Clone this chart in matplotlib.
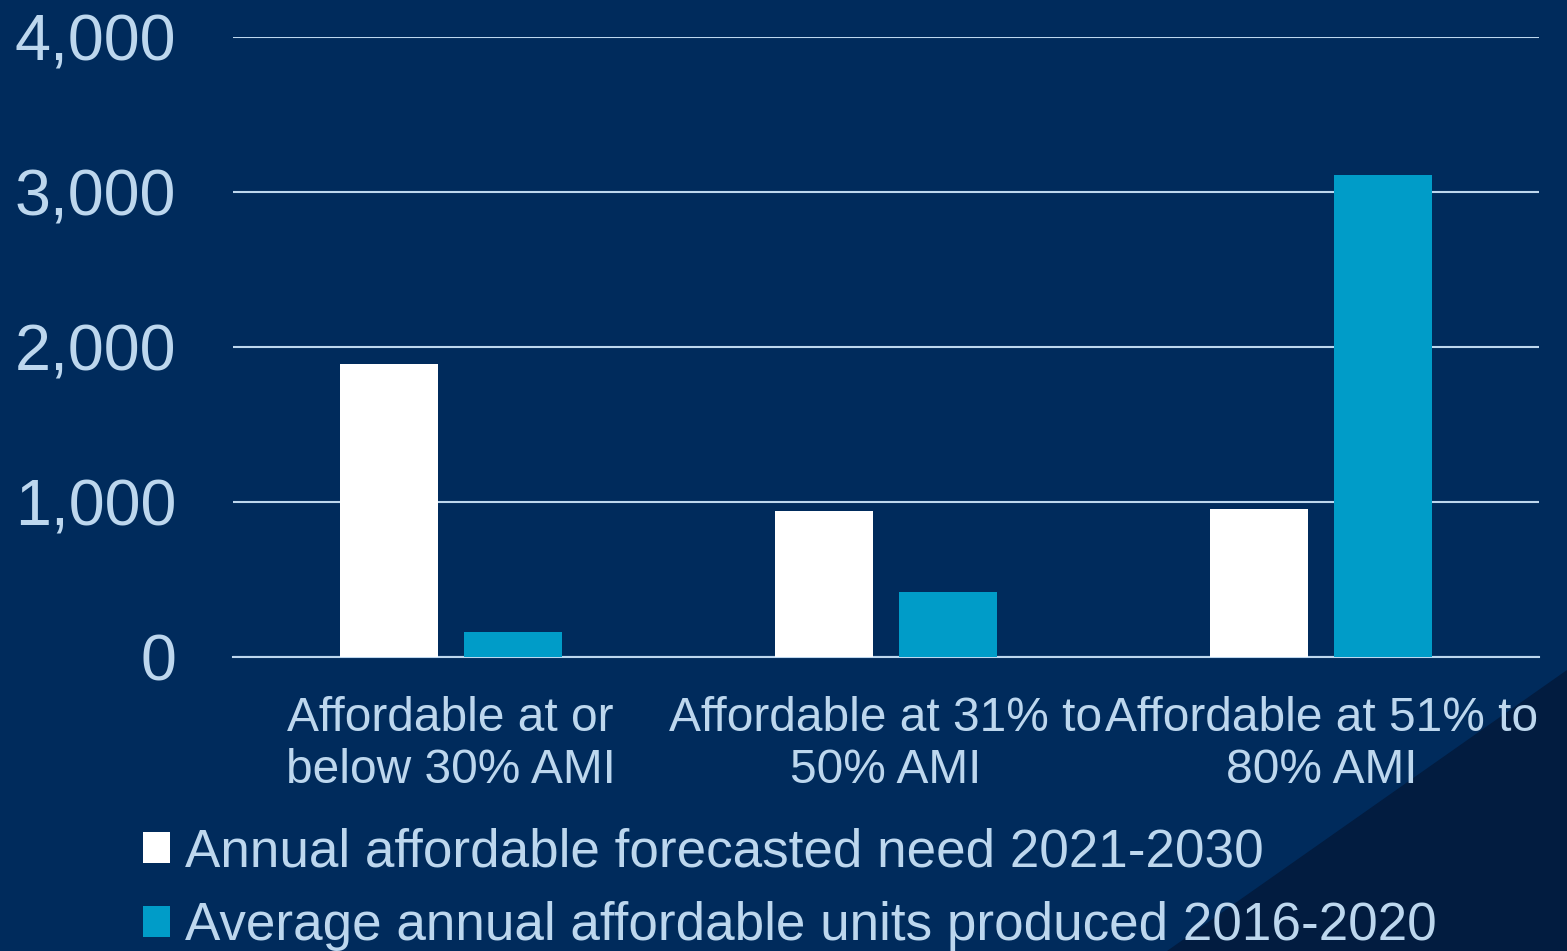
import numpy as np
import matplotlib
matplotlib.use('Agg')
import matplotlib.pyplot as plt
from matplotlib.patches import Polygon
from matplotlib.ticker import FuncFormatter

plt.rcParams['font.family'] = ['Liberation Sans', 'DejaVu Sans']

BG = '#002B5C'
TXT = '#BDD7EE'
WHITE = '#FFFFFF'
TEAL = '#009CC8'

categories = ['Affordable at or\nbelow 30% AMI',
              'Affordable at 31% to\n50% AMI',
              'Affordable at 51% to\n80% AMI']
need = [1890, 940, 955]
produced = [160, 420, 3110]
series_names = ['Annual affordable forecasted need 2021-2030',
                'Average annual affordable units produced 2016-2020']
y_ticks = [0, 1000, 2000, 3000, 4000]

fig = plt.figure(figsize=(15.67, 9.51), dpi=100, facecolor=BG)

# darker diagonal corner in the background
corner = Polygon([(1.0, 0.295), (1.0, 0.0), (0.745, 0.0)], closed=True,
                 transform=fig.transFigure, facecolor='#021C40',
                 edgecolor='none', zorder=-10)
fig.patches.append(corner)

ax = fig.add_axes([0.1487, 0.3091, 0.8334, 0.652])
ax.set_facecolor('none')

x = np.arange(len(categories))
w = 0.225
off = 0.1425
b1 = ax.bar(x - off, need, w, color=WHITE, zorder=3, label=series_names[0])
b2 = ax.bar(x + off, produced, w, color=TEAL, zorder=3, label=series_names[1])

ax.set_xlim(-0.5, len(categories) - 0.5)
ax.set_ylim(0, 4000)
ax.set_yticks(y_ticks)
ax.yaxis.set_major_formatter(FuncFormatter(lambda v, p: f'{int(v):,}'))
ax.grid(axis='y', color=TXT, linewidth=1.5, zorder=1)
ax.set_axisbelow(True)

for s in ['top', 'right', 'left']:
    ax.spines[s].set_visible(False)
ax.spines['bottom'].set_color(TXT)
ax.spines['bottom'].set_linewidth(1.5)

ax.tick_params(axis='y', length=0, pad=41, labelsize=46.5, labelcolor=TXT)
ax.tick_params(axis='x', length=0, pad=28, labelsize=34.5, labelcolor=TXT)
ax.set_xticks(x)
ax.set_xticklabels(categories, linespacing=1.2)

leg = fig.legend(handles=[b1, b2], loc='upper left',
                 bbox_to_anchor=(0.0914, 0.13), bbox_transform=fig.transFigure,
                 frameon=False, fontsize=38.2, labelcolor=TXT,
                 handlelength=0.5, handleheight=0.5, handletextpad=0.28,
                 labelspacing=0.45, borderaxespad=0, borderpad=0)

fig.savefig('out.png', dpi=100, facecolor=BG)
